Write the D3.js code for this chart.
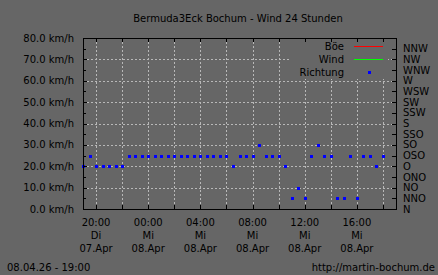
<!DOCTYPE html>
<html>
<head>
<meta charset="utf-8">
<script src="https://cdn.jsdelivr.net/npm/d3@7"></script>
<style>
  body { margin: 0; background: #666666; }
  svg text { font-family: "DejaVu Sans", sans-serif; font-size: 10px; fill: #000; }
</style>
</head>
<body>
<script>
// half-hourly readings, 07.Apr 19:00 .. 08.Apr 18:00
const times = [
  "07 19:00","07 19:30","07 20:00","07 20:30","07 21:00","07 21:30","07 22:00","07 22:30",
  "07 23:00","07 23:30","08 00:00","08 00:30","08 01:00","08 01:30","08 02:00","08 02:30",
  "08 03:00","08 03:30","08 04:00","08 04:30","08 05:00","08 05:30","08 06:00","08 06:30",
  "08 07:00","08 07:30","08 08:00","08 08:30","08 09:00","08 09:30","08 10:00","08 10:30",
  "08 11:00","08 11:30","08 12:00","08 12:30","08 13:00","08 13:30","08 14:00","08 14:30",
  "08 15:00","08 15:30","08 16:00","08 16:30","08 17:00","08 17:30","08 18:00"
];
// wind direction in degrees
const richtung = [
  90,112.5,90,90,90,90,90,112.5,
  112.5,112.5,112.5,112.5,112.5,112.5,112.5,112.5,
  112.5,112.5,112.5,112.5,112.5,112.5,112.5,90,
  112.5,112.5,112.5,135,112.5,112.5,112.5,90,
  22.5,45,22.5,112.5,135,112.5,112.5,22.5,
  22.5,112.5,22.5,112.5,112.5,90,112.5
];
const boe  = times.map(() => 0);  // km/h, all zero in this period
const wind = times.map(() => 0);

const speedTicks = [0,10,20,30,40,50,60,70,80];
const dirLabels = ["N","NNO","NO","ONO","O","OSO","SO","SSO","S","SSW","SW","WSW","W","WNW","NW","NNW"];

const W = 438, H = 275;
const pL = 83, pR = 396, pT = 38, pB = 209;

const parse = d3.timeParse("%d %H:%M");
const toDate = s => { const d = parse(s); return new Date(2026, 3, d.getDate(), d.getHours(), d.getMinutes()); };
const dates = times.map(toDate);

const x = d3.scaleTime()
  .domain([new Date(2026,3,7,19,0), new Date(2026,3,8,19,0)])
  .range([pL, pR]);
const y = d3.scaleLinear().domain([0, 80]).range([pB, pT]);
const y2 = d3.scaleLinear().domain([0, 360]).range([pB, pT]);

const svg = d3.select("body").append("svg")
  .attr("width", W).attr("height", H);

svg.append("rect").attr("width", W).attr("height", H).attr("fill", "#666666");

const px = v => Math.round(v) + 0.5;

// grid
const gridTimes = d3.timeHour.every(2).range(x.domain()[0], x.domain()[1]).filter(d => +d > +x.domain()[0]);
svg.append("g").selectAll("line").data(gridTimes).join("line")
  .attr("x1", d => px(x(d))).attr("x2", d => px(x(d)))
  .attr("y1", pT).attr("y2", pB)
  .attr("stroke", "#b8b8b8").attr("stroke-dasharray", "2,2");
svg.append("g").selectAll("line").data(speedTicks.slice(1, -1)).join("line")
  .attr("x1", pL).attr("x2", pR)
  .attr("y1", d => px(y(d))).attr("y2", d => px(y(d)))
  .attr("stroke", "#b8b8b8").attr("stroke-dasharray", "2,2");

// speed lines (zero, hidden under the axis)
const line = d3.line().x((d, i) => x(dates[i])).y(d => px(y(d)));
svg.append("path").datum(boe).attr("d", line).attr("fill", "none").attr("stroke", "#ff0000");
svg.append("path").datum(wind).attr("d", line).attr("fill", "none").attr("stroke", "#00ff00");

// legend box
svg.append("rect").attr("x", 290).attr("y", pT + 1).attr("width", 98).attr("height", 40).attr("fill", "#666666");

// direction points
svg.append("g").selectAll("rect").data(richtung).join("rect")
  .attr("x", (d, i) => Math.round(x(dates[i])) - 1)
  .attr("y", d => Math.round(y2(d)) - 1)
  .attr("width", 3).attr("height", 3)
  .attr("fill", "#0000ff");

// frame
svg.append("rect").attr("x", pL + 0.5).attr("y", pT + 0.5)
  .attr("width", pR - pL).attr("height", pB - pT)
  .attr("fill", "none").attr("stroke", "#000");

// x ticks top and bottom
const tk = svg.append("g").attr("stroke", "#000");
gridTimes.forEach(d => {
  const xx = px(x(d));
  tk.append("line").attr("x1", xx).attr("x2", xx).attr("y1", pB).attr("y2", pB - 4);
  tk.append("line").attr("x1", xx).attr("x2", xx).attr("y1", pT).attr("y2", pT + 4);
});
// left ticks (major + minor)
d3.range(0, 81, 5).forEach(v => {
  const yy = px(y(v));
  tk.append("line").attr("x1", pL).attr("x2", pL + (v % 10 ? 3 : 4)).attr("y1", yy).attr("y2", yy);
});
// right ticks
dirLabels.forEach((l, i) => {
  const yy = px(y2(i * 22.5));
  tk.append("line").attr("x1", pR - 4).attr("x2", pR + 1).attr("y1", yy).attr("y2", yy);
});

// left labels
svg.append("g").selectAll("text").data(speedTicks).join("text")
  .attr("x", 74).attr("y", d => y(d)).attr("dy", "0.36em")
  .attr("text-anchor", "end")
  .text(d => d3.format(".1f")(d) + " km/h");

// right labels
svg.append("g").selectAll("text").data(dirLabels).join("text")
  .attr("x", 403).attr("y", (d, i) => y2(i * 22.5)).attr("dy", "0.36em")
  .text(d => d);

// x labels
const de = ["So","Mo","Di","Mi","Do","Fr","Sa"];
const labTimes = d3.timeHour.every(4).range(x.domain()[0], x.domain()[1]);
const xl = svg.append("g").selectAll("g").data(labTimes).join("g")
  .attr("transform", d => `translate(${x(d)},0)`);
xl.append("text").attr("y", 226).attr("text-anchor", "middle").text(d3.timeFormat("%H:%M"));
xl.append("text").attr("y", 239).attr("text-anchor", "middle").text(d => de[d.getDay()]);
xl.append("text").attr("y", 252).attr("text-anchor", "middle").text(d3.timeFormat("%d.Apr"));

// title
svg.append("text").attr("x", 238).attr("y", 22).attr("text-anchor", "middle")
  .text("Bermuda3Eck Bochum - Wind 24 Stunden");

// legend
const leg = [
  { name: "Böe", color: "#ff0000", type: "line" },
  { name: "Wind", color: "#00ff00", type: "line" },
  { name: "Richtung", color: "#0000ff", type: "point" }
];
leg.forEach((l, i) => {
  const yy = 46 + i * 13;
  svg.append("text").attr("x", 344).attr("y", yy).attr("dy", "0.36em").attr("text-anchor", "end").text(l.name);
  if (l.type === "line") {
    svg.append("line").attr("x1", 354).attr("x2", 383).attr("y1", yy + 0.5).attr("y2", yy + 0.5).attr("stroke", l.color);
  } else {
    svg.append("rect").attr("x", 368).attr("y", yy - 1).attr("width", 3).attr("height", 3).attr("fill", l.color);
  }
});

// footer
svg.append("text").attr("x", 7).attr("y", 267).attr("dy", "0.36em").text("08.04.26 - 19:00");
svg.append("text").attr("x", 435).attr("y", 267).attr("dy", "0.36em").attr("text-anchor", "end").text("http://martin-bochum.de");
</script>
</body>
</html>
